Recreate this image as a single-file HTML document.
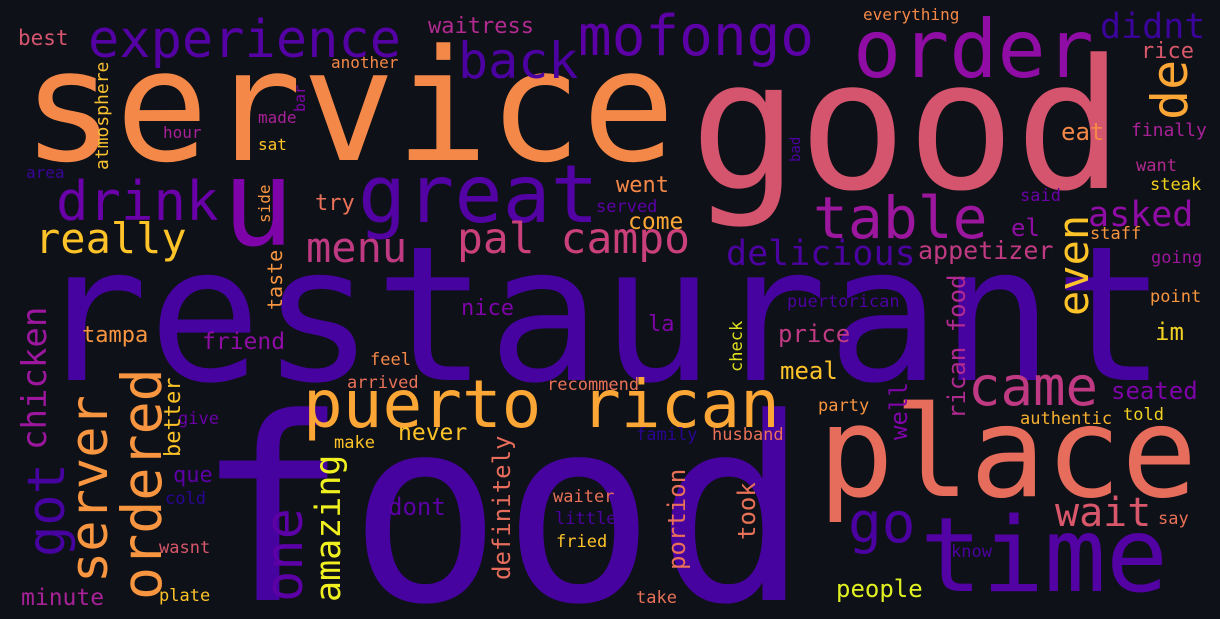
<!DOCTYPE html>
<html><head><meta charset="utf-8"><style>
html,body{margin:0;padding:0;background:#0e1117;width:1220px;height:619px;overflow:hidden;}
svg{display:block}
text{font-family:"DejaVu Sans Mono","Liberation Mono",monospace;}
</style></head><body>
<svg width="1220" height="619" viewBox="0 0 1220 619" xmlns="http://www.w3.org/2000/svg" overflow="hidden">
<rect width="1220" height="619" fill="#0e1117"/>
<g id="words"></g>
</svg>
<script>
// words: text, font size, color, x, y (baseline), rotated
const words = ["restaurant","food","service","good","u","great","order","mofongo","back","experience","drink","really","menu","pal campo","table","puerto rican","came","place","time","go","wait","didnt","rice","eat","finally","want","steak","said","asked","el","staff","appetizer","going","point","im","seated","authentic","told","say","know","people","went","served","come","delicious","puertorican","la","price","meal","recommend","party","family","husband","waiter","little","fried","take","tampa","friend","give","que","cold","wasnt","plate","minute","make","never","dont","feel","arrived","nice","best","another","made","hour","sat","area","try","everything","waitress",
"de","even","rican food","well","check","portion","took","bad","chicken","got","server","ordered","better","one","amazing","definitely","atmosphere","bar","side","taste"];
const sizes = [188,255,155,180,120,80,80,56,50,52,54,42,42,43,58,66,54,126,103,56,40,35,22,24,18,17,17,17,35,24,17,25,17,17,24,24,17,17,17,17,24,22,17,23,35,17,22,24,24,17,17,17,17,17,17,17,17,22,23,17,22,17,17,17,23,17,23,24,17,17,22,21,16,16,16,16,16,22,16,22,
50,42,24,24,17,24,24,14,34,52,52,55,22,52,35,24,18,15,16,20];
const colors = ["#46039f","#46039f","#f48849","#d5546e","#7e03a8","#5302a3","#8f0da4","#5c01a6","#4c02a1","#5402a3","#6a00a8","#fdc328","#c03a83","#c9407a","#9c179e","#fca636","#c03a83","#e66c5c","#5302a3","#4c02a1","#d8576b","#3b049a","#d8576b","#f48849","#a72197","#b12a90","#f0d020","#6a00a8","#8f0da4","#8f0da4","#f89540","#c03a83","#9c179e","#f89540","#f0d020","#7e03a8","#f7b030","#f0d020","#e97158","#4c02a1","#e0f020","#f48849","#5c01a6","#fca636","#4c02a1","#4c02a1","#7e03a8","#c03a83","#fdc328","#e97158","#f89540","#2a0593","#e97158","#e97158","#4c02a1","#fdc328","#e97158","#f89540","#8f0da4","#6a00a8","#5c01a6","#2a0593","#d8576b","#fdc328","#a72197","#fdc328","#fdc328","#5c01a6","#f48849","#e97158","#7e03a8","#d5546e","#f48849","#a72197","#a72197","#fdc328","#3b049a","#e97158","#f48849","#b12a90",
"#fca636","#fdc328","#b12a90","#7e03a8","#e0e020","#e97158","#e97158","#4c02a1","#9c179e","#46039f","#f89540","#f89540","#fdc328","#5c01a6","#f0f020","#e66c5c","#f7c030","#7e03a8","#f89540","#f89540"];
const xs = [35,195,22,690,222,358,853,578,458,88,56,35,306,457,813,303,968,818,920,848,1055,1100,1141,1061,1131,1136,1150,1020,1088,1011,1090,918,1151,1150,1155,1111,1020,1123,1158,951,836,616,596,628,726,787,648,778,780,547,818,636,712,553,555,556,636,82,202,178,173,165,159,159,21,334,398,388,370,347,461,18,331,258,163,258,26,315,863,428,
1187,1088,965,907,742,685,755,800,46,64,107,161,180,302,340,510,108,305,270,282];
const ys = [380,600,160,188,245,222,77,55,78,57,220,253,262,253,238,427,405,496,591,542,526,38,58,140,136,171,190,201,226,236,239,259,263,302,340,399,424,420,524,557,597,192,212,229,265,307,331,342,379,390,411,440,440,502,524,547,603,342,349,424,482,504,553,601,605,448,440,515,365,388,315,45,68,123,138,150,178,210,20,33,
120,316,419,440,372,570,540,162,450,557,583,600,457,602,602,580,170,112,223,310];
const rot = [0,0,0,0,0,0,0,0,0,0,0,0,0,0,0,0,0,0,0,0,0,0,0,0,0,0,0,0,0,0,0,0,0,0,0,0,0,0,0,0,0,0,0,0,0,0,0,0,0,0,0,0,0,0,0,0,0,0,0,0,0,0,0,0,0,0,0,0,0,0,0,0,0,0,0,0,0,0,0,0,
1,1,1,1,1,1,1,1,1,1,1,1,1,1,1,1,1,1,1,1];
const g = document.getElementById('words');
const NS = 'http://www.w3.org/2000/svg';
for (let i = 0; i < words.length; i++) {
  const t = document.createElementNS(NS, 'text');
  t.textContent = words[i];
  t.setAttribute('font-size', sizes[i]);
  t.setAttribute('fill', colors[i]);
  if (rot[i]) {
    t.setAttribute('transform', 'translate(' + xs[i] + ',' + ys[i] + ') rotate(-90)');
  } else {
    t.setAttribute('x', xs[i]);
    t.setAttribute('y', ys[i]);
  }
  
  
  g.appendChild(t);
}
</script>
</body></html>
